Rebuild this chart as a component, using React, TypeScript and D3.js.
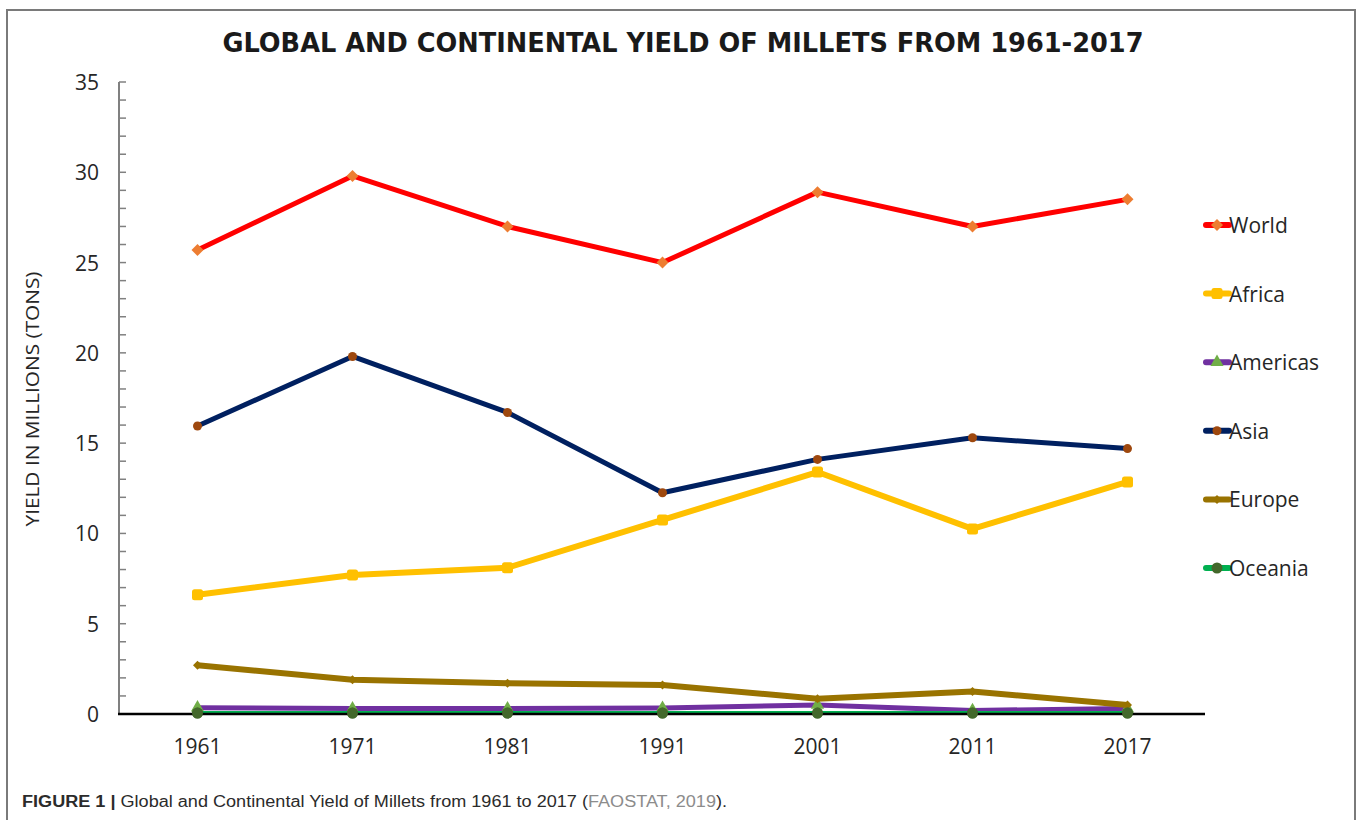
import React from 'react';
import * as d3 from 'd3';

const years = ['1961', '1971', '1981', '1991', '2001', '2011', '2017'];

const world = [25.7, 29.8, 27.0, 25.0, 28.9, 27.0, 28.5];
const africa = [6.6, 7.7, 8.1, 10.75, 13.4, 10.25, 12.85];
const americas = [0.35, 0.3, 0.3, 0.33, 0.5, 0.2, 0.3];
const asia = [15.95, 19.8, 16.7, 12.25, 14.1, 15.3, 14.7];
const europe = [2.7, 1.9, 1.7, 1.6, 0.85, 1.25, 0.5];
const oceania = [0.05, 0.05, 0.05, 0.05, 0.05, 0.05, 0.05];

const yTicks = [0, 5, 10, 15, 20, 25, 30, 35];

type Marker = 'diamond' | 'square' | 'triangle' | 'circle' | 'smalldiamond';

interface Series {
  name: string;
  values: number[];
  line: string;
  lineWidth: number;
  marker: Marker;
  markerFill: string;
}

const series: Series[] = [
  { name: 'World', values: world, line: '#FF0000', lineWidth: 5, marker: 'diamond', markerFill: '#ED7D31' },
  { name: 'Africa', values: africa, line: '#FFC000', lineWidth: 6, marker: 'square', markerFill: '#FFC000' },
  { name: 'Americas', values: americas, line: '#7030A0', lineWidth: 5, marker: 'triangle', markerFill: '#70AD47' },
  { name: 'Asia', values: asia, line: '#002060', lineWidth: 5, marker: 'circle', markerFill: '#9E480E' },
  { name: 'Europe', values: europe, line: '#997300', lineWidth: 6, marker: 'smalldiamond', markerFill: '#997300' },
  { name: 'Oceania', values: oceania, line: '#00B050', lineWidth: 4, marker: 'circle', markerFill: '#43682B' },
];

const FONT = '"Open Sans", "Noto Sans", sans-serif';

const W = 1360;
const H = 820;
const plot = { left: 120, right: 1205, top: 82, bottom: 714 };

function markerShape(kind: Marker, x: number, y: number, fill: string, key: string | number) {
  if (kind === 'diamond' || kind === 'smalldiamond') {
    const r = kind === 'diamond' ? 6 : 4.5;
    return <path key={key} d={`M${x},${y - r}L${x + r},${y}L${x},${y + r}L${x - r},${y}Z`} fill={fill} />;
  }
  if (kind === 'square') {
    const s = 11;
    return <rect key={key} x={x - s / 2} y={y - s / 2} width={s} height={s} rx={2.5} fill={fill} />;
  }
  if (kind === 'triangle') {
    const s = d3.symbol().type(d3.symbolTriangle).size(75)();
    return <path key={key} d={s || ''} transform={`translate(${x},${y})`} fill={fill} />;
  }
  const r = fill === '#43682B' ? 5.5 : 4.5;
  return <circle key={key} cx={x} cy={y} r={r} fill={fill} />;
}

export default function App() {
  const x = d3.scaleBand<string>().domain(years).range([plot.left, plot.right]).padding(0);
  const cx = (yr: string) => (x(yr) || 0) + x.bandwidth() / 2;
  const y = d3.scaleLinear().domain([0, 35]).range([plot.bottom, plot.top]);

  const line = d3
    .line<number>()
    .x((_, i) => cx(years[i]))
    .y((d) => y(d));

  const minorTicks = d3.range(0, 36, 1);
  const legendY = d3.scalePoint<string>().domain(series.map((s) => s.name)).range([225, 568]);

  return (
    <svg width={W} height={H} style={{ position: 'absolute', left: 0, top: 0, background: '#fff' }}>
      <rect x={7} y={10} width={1348} height={830} fill="#fff" stroke="#7a7a7a" strokeWidth={2} />

      <text
        x={683}
        y={52}
        textAnchor="middle"
        fontFamily='"DejaVu Sans Condensed", "DejaVu Sans", sans-serif'
        fontWeight="bold"
        fontSize={27}
        fill="#1a1a1a"
        textLength={921}
        lengthAdjust="spacingAndGlyphs"
      >
        GLOBAL AND CONTINENTAL YIELD OF MILLETS FROM 1961-2017
      </text>

      {/* y axis */}
      <line x1={plot.left - 1} x2={plot.left - 1} y1={plot.top} y2={plot.bottom} stroke="#808080" strokeWidth={2} />
      {minorTicks.map((t) => (
        <line key={t} x1={plot.left - 1} x2={plot.left + 6} y1={y(t)} y2={y(t)} stroke="#808080" strokeWidth={1.5} />
      ))}
      {yTicks.map((t) => (
        <text key={t} x={99} y={y(t) + 8} textAnchor="end" fontFamily={FONT} fontSize={21} fill="#262626">
          {t}
        </text>
      ))}
      <text
        transform={`translate(39,${(plot.top + plot.bottom) / 2 + 1}) rotate(-90)`}
        textAnchor="middle"
        fontFamily={FONT}
        fontSize={19}
        fill="#262626"
        textLength={255}
        lengthAdjust="spacingAndGlyphs"
      >
        YIELD IN MILLIONS (TONS)
      </text>

      {/* x axis */}
      {years.map((yr) => (
        <text key={yr} x={cx(yr)} y={754} textAnchor="middle" fontFamily={FONT} fontSize={21} fill="#262626">
          {yr}
        </text>
      ))}

      {series.map((s) => (
        <g key={s.name}>
          <path d={line(s.values) || ''} fill="none" stroke={s.line} strokeWidth={s.lineWidth} strokeLinejoin="round" />
          {s.values.map((v, i) => markerShape(s.marker, cx(years[i]), y(v), s.markerFill, i))}
        </g>
      ))}

      <line x1={plot.left - 2} x2={plot.right} y1={plot.bottom} y2={plot.bottom} stroke="#000" strokeWidth={2.5} />
      {/* Oceania markers sit on the axis line */}
      {series
        .filter((s) => s.name === 'Oceania')
        .map((s) => (
          <g key={s.name}>{s.values.map((v, i) => markerShape(s.marker, cx(years[i]), y(v), s.markerFill, i))}</g>
        ))}

      {/* legend */}
      {series.map((s) => {
        const ly = legendY(s.name) || 0;
        return (
          <g key={s.name}>
            <line x1={1206} x2={1229} y1={ly} y2={ly} stroke={s.line} strokeWidth={6} strokeLinecap="round" />
            {markerShape(s.marker, 1217, ly, s.markerFill, 'm')}
            <text x={1229} y={ly + 8} fontFamily={FONT} fontSize={21} fill="#262626">
              {s.name}
            </text>
          </g>
        );
      })}

      <text
        x={22}
        y={807}
        fontFamily='"Liberation Sans Narrow", "Liberation Sans", Arial, sans-serif'
        fontSize={16}
        fill="#2b2b2b"
        textLength={705}
        lengthAdjust="spacingAndGlyphs"
      >
        <tspan fontWeight="bold">FIGURE 1 | </tspan>
        <tspan>Global and Continental Yield of Millets from 1961 to 2017 (</tspan>
        <tspan fill="#8c8c8c">FAOSTAT, 2019</tspan>
        <tspan>).</tspan>
      </text>
    </svg>
  );
}
